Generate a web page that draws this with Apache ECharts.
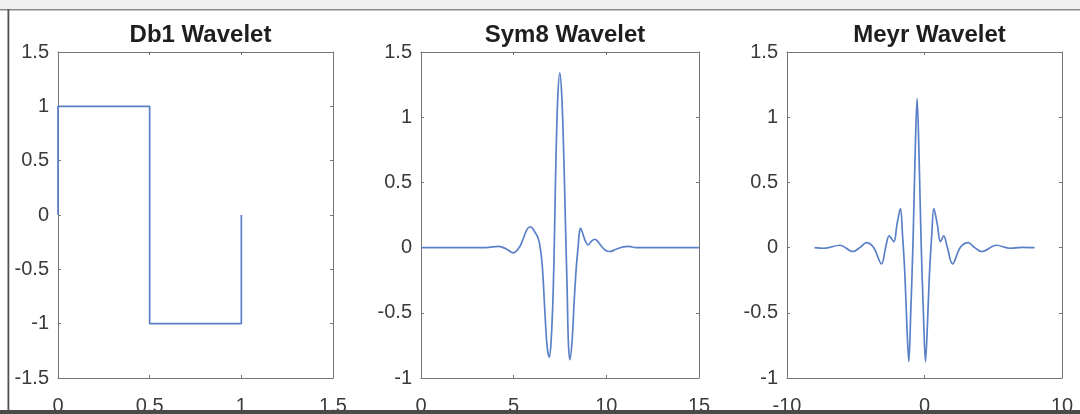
<!DOCTYPE html>
<html><head><meta charset="utf-8">
<script src="https://cdn.jsdelivr.net/npm/echarts@6/dist/echarts.min.js"></script>
<style>html,body{margin:0;padding:0;background:#fff}#c{width:1080px;height:414px}</style>
</head><body><div id="c"></div>
<script>
const titles = ['Db1 Wavelet', 'Sym8 Wavelet', 'Meyr Wavelet'];

const db1X = [0, 0, 0.5, 0.5, 1, 1];
const db1Y = [0, 1, 1, -1, -1, 0];

const sym8X = [0, 3.5, 4.2, 4.6, 4.98, 5.3, 5.52, 5.72, 5.91, 6.1, 6.33, 6.45, 6.55, 6.68, 6.8, 6.92, 7.02, 7.13, 7.21, 7.28, 7.38, 7.49, 7.6, 7.71, 7.8, 7.89, 7.95, 8.03, 8.15, 8.27, 8.38, 8.48, 8.55, 8.61, 8.7, 8.84, 9.02, 9.2, 9.38, 9.55, 9.74, 9.95, 10.19, 10.5, 10.9, 11.2, 11.6, 12.5, 15];
const sym8Y = [0, 0, 0.01, -0.01, -0.04, 0.0, 0.07, 0.14, 0.16, 0.13, 0.07, -0.02, -0.15, -0.48, -0.75, -0.84, -0.72, -0.35, 0.15, 0.67, 1.15, 1.34, 1.15, 0.67, 0.15, -0.35, -0.72, -0.86, -0.72, -0.40, -0.15, 0.01, 0.12, 0.148, 0.12, 0.06, 0.02, 0.05, 0.064, 0.045, 0.01, -0.02, -0.03, -0.015, 0.005, 0.01, 0.0, 0, 0];

const meyrX = [-8, -7.3, -6.16, -5.19, -4.7, -4.22, -3.7, -3.13, -2.81, -2.57, -2.23, -2.0, -1.75, -1.6, -1.43, -1.28, -1.14, -1.0, -0.83, -0.68, -0.54, -0.4, -0.25, -0.08, 0.07, 0.21, 0.36, 0.53, 0.68, 0.93, 1.16, 1.40, 1.64, 2.04, 2.6, 3.17, 3.65, 4.15, 5.24, 6.2, 7.1, 8];
const meyrY = [0, -0.005, 0.018, -0.03, 0.0, 0.038, 0.0, -0.125, 0.01, 0.09, 0.045, 0.18, 0.30, 0.1, -0.20, -0.6, -0.875, -0.5, 0.06, 0.72, 1.145, 0.72, 0.06, -0.5, -0.875, -0.6, -0.20, 0.1, 0.30, 0.18, 0.045, 0.09, 0.01, -0.125, 0.0, 0.038, 0.0, -0.03, 0.018, -0.005, 0.002, 0];

const xRanges = [[0, 1.5, 0.5], [0, 15, 5], [-10, 10, 10]];
const yRanges = [[-1.5, 1.5, 0.5], [-1, 1.5, 0.5], [-1, 1.5, 0.5]];

const zip = (a, b) => a.map((v, i) => [v, b[i]]);
const seriesData = [zip(db1X, db1Y), zip(sym8X, sym8Y), zip(meyrX, meyrY)];
const smoothing = [false, 0.35, 0.35];

const grids = [
  {left: 58, top: 52, width: 275, height: 326, outerBoundsMode: 'none', containLabel: false},
  {left: 421, top: 52, width: 278, height: 326, outerBoundsMode: 'none', containLabel: false},
  {left: 787, top: 52, width: 275, height: 326, outerBoundsMode: 'none', containLabel: false}
];

const FONT = 'Liberation Sans, Arial, sans-serif';
const AX = '#767676';
const LBL = '#3a3a3a';
const xAxes = [], yAxes = [], series = [], titleOpts = [];
grids.forEach((g, i) => {
  const [xmin, xmax, xint] = xRanges[i];
  const [ymin, ymax, yint] = yRanges[i];
  const common = {type: 'value', gridIndex: i, splitLine: {show: false},
    axisLine: {show: true, onZero: false, lineStyle: {color: AX, width: 1}},
    axisTick: {show: true, inside: true, length: 3, lineStyle: {color: AX}}};
  xAxes.push(Object.assign({}, common, {position: 'bottom', min: xmin, max: xmax, interval: xint,
    axisLabel: {show: true, margin: 18, fontSize: 20, color: LBL, fontFamily: FONT, showMinLabel: true, showMaxLabel: true}}));
  xAxes.push(Object.assign({}, common, {position: 'top', min: xmin, max: xmax, interval: xint, axisLabel: {show: false}}));
  yAxes.push(Object.assign({}, common, {position: 'left', min: ymin, max: ymax, interval: yint,
    axisLabel: {show: true, margin: 9, fontSize: 20, color: LBL, fontFamily: FONT, showMinLabel: true, showMaxLabel: true}}));
  yAxes.push(Object.assign({}, common, {position: 'right', min: ymin, max: ymax, interval: yint, axisLabel: {show: false}}));
  series.push({type: 'line', xAxisIndex: i * 2, yAxisIndex: i * 2, data: seriesData[i],
    showSymbol: false, smooth: smoothing[i], lineStyle: {color: '#5a80c8', width: 1.7}, animation: false});
  titleOpts.push({text: titles[i], left: g.left + g.width / 2, top: 18, textAlign: 'center',
    textStyle: {fontSize: 24, fontWeight: 'bold', color: '#1e1e1e', fontFamily: FONT}});
});

const chart = echarts.init(document.getElementById('c'), null, {renderer: 'canvas'});
chart.setOption({
  animation: false,
  backgroundColor: '#ffffff',
  title: titleOpts,
  grid: grids,
  xAxis: xAxes,
  yAxis: yAxes,
  series: series,
  graphic: [
    {type: 'rect', z: 100, shape: {x: 0, y: 0, width: 1080, height: 9}, style: {fill: '#efefef'}},
    {type: 'rect', z: 100, shape: {x: 0, y: 9, width: 1080, height: 1.5}, style: {fill: '#8a8a8a'}},
    {type: 'rect', z: 100, shape: {x: 7.5, y: 9, width: 1.8, height: 405}, style: {fill: '#505050'}},
    {type: 'rect', z: 100, shape: {x: 0, y: 410, width: 1080, height: 4}, style: {fill: '#4a4a4a'}}
  ]
});
</script></body></html>
